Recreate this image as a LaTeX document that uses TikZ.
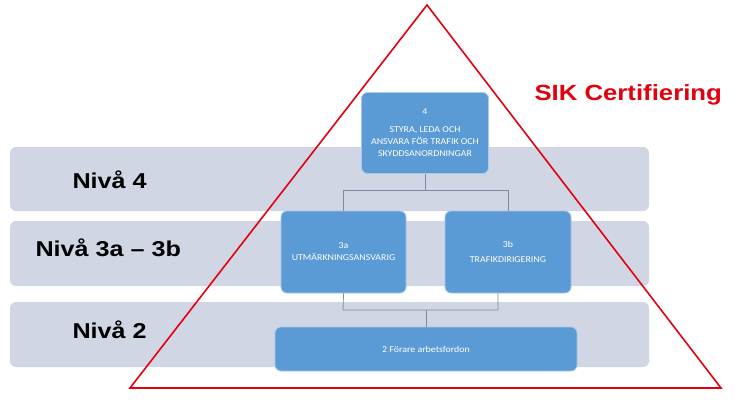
\documentclass[tikz,border=0pt]{standalone}
\usepackage{fontspec}
\setmainfont{Liberation Sans}
\newfontfamily\widefont{Liberation Sans}[FakeStretch=1.17]
\newfontfamily\boxfont{Carlito}[FakeStretch=1.1]
\begin{document}
\begin{tikzpicture}[x=1pt,y=-1pt,
  band/.style={fill=bandgray,draw=none,rounded corners=6pt},
  bluebox/.style={fill=boxblue,draw=boxedge,line width=0.8pt,rounded corners=6pt,align=center,text=white,font=\boxfont\fontsize{9}{12}\selectfont,inner sep=0pt},
  lvl/.style={font=\widefont\bfseries\fontsize{21.5}{24}\selectfont,text=black,anchor=base west},
  conn/.style={draw=conngray,line width=0.8pt}]
\definecolor{bandgray}{HTML}{D0D6E4}
\definecolor{boxblue}{HTML}{5B9BD5}
\definecolor{boxedge}{HTML}{A9C8EA}
\definecolor{conngray}{HTML}{7D8CA6}
\definecolor{sikred}{HTML}{E3000F}
\useasboundingbox (0,0) rectangle (750,400);
% bands
\path[band] (10,147) rectangle (649,211);
\path[band] (10,221) rectangle (649,286);
\path[band] (10,302) rectangle (649,367);
\node[lvl] (n4) at (69,188) {Nivå 4};
\node[lvl] (n3) at (32,256) {Nivå 3a – 3b};
\node[lvl] (n2) at (69,338) {Nivå 2};
% triangle
\coordinate (tA) at (427,5);
\coordinate (tL) at (130,388);
\coordinate (tR) at (721,388);
\draw[sikred,line width=1.6pt,line join=miter] (tA) -- (tL) -- (tR) -- cycle;
\node[font=\widefont\bfseries\fontsize{22}{24}\selectfont,text=sikred,anchor=base west] (sik) at (531,100) {SIK Certifiering};
% boxes
\node[bluebox,minimum width=127pt,minimum height=81pt] (b4) at (425,133) {4\\[6pt]STYRA, LEDA OCH\\ANSVARA FÖR TRAFIK OCH\\SKYDDSANORDNINGAR};
\node[bluebox,minimum width=125pt,minimum height=82pt] (b3a) at (343.5,252) {3a\\UTMÄRKNINGSANSVARIG};
\node[bluebox,minimum width=126pt,minimum height=82pt] (b3b) at (508,252) {3b\\[3pt]TRAFIKDIRIGERING};
\node[bluebox,minimum width=302pt,minimum height=44pt] (b2) at (426,349) {2 Förare arbetsfordon};
% connectors
\draw[conn] (b4.south) -- ++(0,16) -| (b3a.north);
\draw[conn] (b4.south) ++(0,16) -| (b3b.north);
\coordinate (j1) at (343,310);
\coordinate (j2) at (498,310);
\draw[conn] (b3a.south) -- (j1) -- (j2) -- (498,293);
\draw[conn] (426,310) -- (b2.north);
\end{tikzpicture}
\end{document}
